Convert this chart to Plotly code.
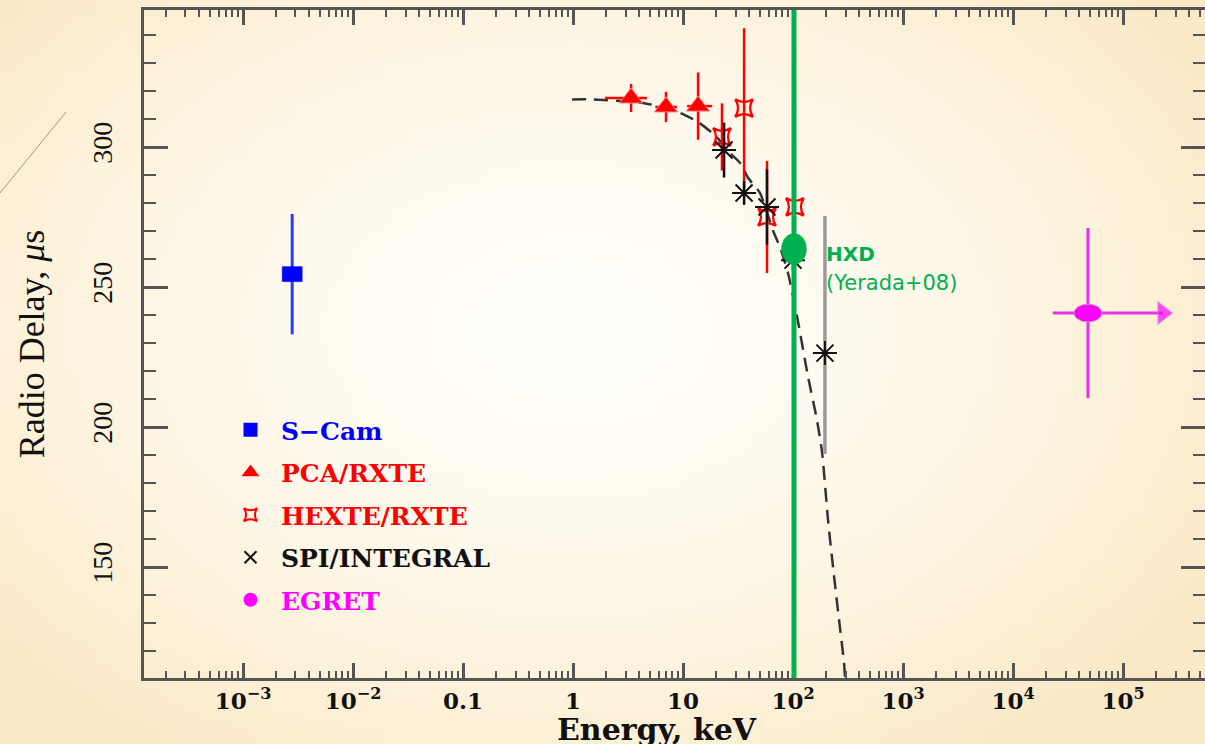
import base64
import struct
import zlib

import numpy as np
import plotly.graph_objects as go

# ---------------- data ----------------
# S-Cam (optical)
scam_energy = [0.0028]
scam_delay = [254.6]
scam_err = [21.5]

# PCA / RXTE
pca_energy = [3.37, 7.0, 13.7]
pca_delay = [317.5, 314.3, 314.6]
pca_err = [5.0, 5.4, 12.0]
pca_energy_lo = [1.95, 5.6, 10.9]
pca_energy_hi = [4.7, 8.8, 18.4]

# HEXTE / RXTE
hexte_energy = [22.6, 35.9, 58.0, 104.0]
hexte_delay = [303.6, 313.9, 275.0, 278.6]
hexte_err = [12.0, 28.5, 20.0, 0.0]

# SPI / INTEGRAL
spi_energy = [23.6, 35.9, 58.0, 100.0, 195.0]
spi_delay = [298.9, 283.6, 278.6, 259.6, 226.4]
spi_err_up = [9.8, 4.0, 13.4, 4.0, 49.0]
spi_err_down = [9.8, 4.0, 13.4, 4.0, 36.0]

# EGRET
egret_energy = [4.8e4]
egret_delay = [240.7]
egret_err = [30.4]
egret_energy_lo = [2.3e4]
egret_arrow_energy = [2.3e5]

# Suzaku HXD (Yerada+08)
hxd_energy = [102.0]
hxd_delay = [263.6]

# model curve
fit_energy = [0.98, 1.5, 4.0, 7.0, 10.4, 13.7, 20.3, 24.0, 33.0, 39.0, 50.0, 66.0,
              76.0, 90.0, 109.0, 137.0, 165.0, 184.0, 208.0, 231.0, 262.0, 291.0, 297.0]
fit_delay = [317.0, 317.0, 315.9, 314.0, 311.4, 308.9, 303.6, 299.6, 294.3, 289.0, 283.6, 270.0,
             264.3, 255.0, 239.3, 217.9, 202.5, 190.7, 166.8, 150.0, 131.1, 115.7, 110.4]

# axis ticks
x_tick_vals = [1e-3, 1e-2, 0.1, 1, 10, 1e2, 1e3, 1e4, 1e5]
x_tick_text = ["10<sup>−3</sup>", "10<sup>−2</sup>", "0.1", "1", "10",
               "10<sup>2</sup>", "10<sup>3</sup>", "10<sup>4</sup>", "10<sup>5</sup>"]
y_tick_vals = [150, 200, 250, 300]

legend_names = ["S−Cam", "PCA/RXTE", "HEXTE/RXTE", "SPI/INTEGRAL", "EGRET"]
legend_colors = ["#0000FF", "#FF0000", "#FF0000", "#111111", "#FF00FF"]
legend_symbols = ["square", "triangle-up", "star-square-open", "x-thin-open", "circle"]

BLUE = "#0000FF"
RED = "#FF0000"
MAGENTA = "#FF00FF"
GREEN = "#00B050"
AXIS = "#555555"

W, H = 1205, 744
ML, MR, MT, MB = 144, 0, 10, 66
pw = W - ML - MR
ph = H - MT - MB
X_RANGE = [-3.9, 5.745]          # log10(keV)
Y_RANGE = [110.36, 348.93]       # microseconds
PX_PER_DECADE = pw / (X_RANGE[1] - X_RANGE[0])
PX_PER_US = ph / (Y_RANGE[1] - Y_RANGE[0])


def blob(energy, delay, rx, ry, kind="ellipse"):
    """Outline of a marker of rx x ry pixels (half sizes) centred on a data point."""
    if kind == "ellipse":
        t = np.linspace(0, 2 * np.pi, 61)
        dx, dy = np.cos(t) * rx, np.sin(t) * ry
    else:
        dx = np.array([-rx, rx, rx, -rx, -rx])
        dy = np.array([-ry, -ry, ry, ry, -ry])
    return energy * 10 ** (dx / PX_PER_DECADE), delay + dy / PX_PER_US


def gradient_png(w, h):
    """Small radial cream gradient, stretched behind the whole figure."""
    inner = np.array([255, 254, 249], float)
    outer = np.array([251, 233, 197], float)
    xs = (np.arange(w) + 0.5) / w * W
    ys = (np.arange(h) + 0.5) / h * H
    gx, gy = np.meshgrid(xs, ys)
    d = np.sqrt(((gx - 570) / 760.0) ** 2 + ((gy - 330) / 520.0) ** 2)
    t = np.clip(d, 0, 1) ** 1.6
    img = inner[None, None, :] + (outer - inner)[None, None, :] * t[..., None]
    img = img.round().astype(np.uint8)
    raw = b"".join(b"\x00" + img[j].tobytes() for j in range(h))

    def chunk(tag, data):
        return (struct.pack(">I", len(data)) + tag + data
                + struct.pack(">I", zlib.crc32(tag + data) & 0xFFFFFFFF))

    png = (b"\x89PNG\r\n\x1a\n"
           + chunk(b"IHDR", struct.pack(">IIBBBBB", w, h, 8, 2, 0, 0, 0))
           + chunk(b"IDAT", zlib.compress(raw, 9))
           + chunk(b"IEND", b""))
    return "data:image/png;base64," + base64.b64encode(png).decode()


fig = go.Figure()

# model curve
fig.add_trace(go.Scatter(
    x=fit_energy, y=fit_delay, mode="lines",
    line=dict(color="#333333", width=2.5, dash="14px,8px", shape="spline", smoothing=0.6),
    showlegend=False, hoverinfo="skip"))

# S-Cam: error bar plus a wide rectangular marker
fig.add_trace(go.Scatter(
    x=scam_energy, y=scam_delay, mode="markers",
    marker=dict(symbol="square", size=1, color=BLUE),
    error_y=dict(type="data", array=scam_err, color="#2B3BFF", thickness=3, width=0),
    showlegend=False))
bx, by = blob(scam_energy[0], scam_delay[0], 10, 7.5, kind="rect")
fig.add_trace(go.Scatter(x=bx, y=by, mode="lines", fill="toself", fillcolor=BLUE,
                         line=dict(color=BLUE, width=0.5), showlegend=False, hoverinfo="skip"))

# PCA / RXTE
fig.add_trace(go.Scatter(
    x=pca_energy, y=pca_delay, mode="markers",
    marker=dict(symbol="triangle-up", size=20, color=RED, line=dict(color="#F08080", width=1)),
    error_y=dict(type="data", array=pca_err, color=RED, thickness=2.5, width=0),
    error_x=dict(type="data",
                 array=[h - e for h, e in zip(pca_energy_hi, pca_energy)],
                 arrayminus=[e - l for l, e in zip(pca_energy_lo, pca_energy)],
                 color=RED, thickness=2.5, width=0),
    showlegend=False))

# HEXTE / RXTE
fig.add_trace(go.Scatter(
    x=hexte_energy, y=hexte_delay, mode="markers",
    marker=dict(symbol="star-square-open", size=16, color=RED, line=dict(width=2.5)),
    error_y=dict(type="data", array=hexte_err, color=RED, thickness=2.5, width=0),
    showlegend=False))

# SPI / INTEGRAL (last point has a grey bar)
fig.add_trace(go.Scatter(
    x=spi_energy[-1:], y=spi_delay[-1:], mode="markers",
    marker=dict(symbol="asterisk-open", size=20, color="#111111", line=dict(width=2)),
    error_y=dict(type="data", symmetric=False, array=spi_err_up[-1:],
                 arrayminus=spi_err_down[-1:], color="#9A9A9A", thickness=3.5, width=0),
    showlegend=False))
fig.add_trace(go.Scatter(
    x=spi_energy[:-1], y=spi_delay[:-1], mode="markers",
    marker=dict(symbol="asterisk-open", size=20, color="#111111", line=dict(width=2)),
    error_y=dict(type="data", symmetric=False, array=spi_err_up[:-1],
                 arrayminus=spi_err_down[:-1], color="#111111", thickness=2.5, width=0),
    showlegend=False))

# EGRET: bars, lower-limit arrow and elliptical point
fig.add_trace(go.Scatter(
    x=[egret_energy[0], egret_arrow_energy[0]], y=[egret_delay[0], egret_delay[0]],
    mode="lines+markers", line=dict(color="#E830E8", width=3),
    marker=dict(symbol=["circle", "triangle-right"], size=[0, 20], color=MAGENTA,
                line=dict(color="#C8A0C8", width=1)),
    showlegend=False, hoverinfo="skip"))
fig.add_trace(go.Scatter(
    x=egret_energy, y=egret_delay, mode="markers",
    marker=dict(symbol="circle", size=1, color=MAGENTA),
    error_y=dict(type="data", array=egret_err, color="#E830E8", thickness=3, width=0),
    error_x=dict(type="data", array=[0.0],
                 arrayminus=[e - l for l, e in zip(egret_energy_lo, egret_energy)],
                 color="#E830E8", thickness=3, width=0),
    showlegend=False))
bx, by = blob(egret_energy[0], egret_delay[0], 14, 9)
fig.add_trace(go.Scatter(x=bx, y=by, mode="lines", fill="toself", fillcolor=MAGENTA,
                         line=dict(color="#B8A0B8", width=1), showlegend=False, hoverinfo="skip"))

# HXD energy line and point
fig.add_shape(type="line", xref="x", yref="paper",
              x0=hxd_energy[0], x1=hxd_energy[0], y0=0, y1=1,
              line=dict(color=GREEN, width=5), layer="above")
bx, by = blob(hxd_energy[0], hxd_delay[0], 12.5, 15.5)
fig.add_trace(go.Scatter(x=bx, y=by, mode="lines", fill="toself", fillcolor=GREEN,
                         line=dict(color=GREEN, width=0.5), showlegend=False, hoverinfo="skip"))

# legend entries
for name, color, symbol in zip(legend_names, legend_colors, legend_symbols):
    fig.add_trace(go.Scatter(
        x=[None], y=[None], mode="markers", legendgroup=name,
        name=f"<span style='color:{color}'>{name}</span>",
        marker=dict(symbol=symbol, size=15, color=color, line=dict(width=2, color=color))))

# slide decoration
fig.add_shape(type="line", xref="paper", yref="paper",
              x0=(0 - ML) / pw, y0=(H - MB - 193) / ph,
              x1=(66 - ML) / pw, y1=(H - MB - 112) / ph,
              line=dict(color="#C08878", width=1))

images = [dict(source=gradient_png(121, 75), xref="paper", yref="paper",
               x=-ML / pw, y=1 + MT / ph, sizex=W / pw, sizey=H / ph,
               xanchor="left", yanchor="top", sizing="stretch", layer="below")]

annotations = [
    dict(x=np.log10(hxd_energy[0]), y=hxd_delay[0], xref="x", yref="y",
         text="<b>HXD</b>", showarrow=False, xanchor="left", xshift=30, yshift=-5,
         font=dict(family="DejaVu Sans", size=20, color=GREEN)),
    dict(x=np.log10(hxd_energy[0]), y=hxd_delay[0], xref="x", yref="y",
         text="(Yerada+08)", showarrow=False, xanchor="left", xshift=30, yshift=-34,
         font=dict(family="DejaVu Sans", size=21, color=GREEN)),
    dict(x=(657 - ML) / pw, y=(H - MB - 710) / ph, xref="paper", yref="paper",
         text="<b>Energy, keV</b>", showarrow=False, xanchor="center", yanchor="top",
         font=dict(family="DejaVu Serif", size=30, color="#111111")),
]

minor_x = [m * 10.0 ** k for k in range(-5, 7) for m in range(2, 10)]

fig.update_layout(
    width=W, height=H, margin=dict(l=ML, r=MR, t=MT, b=MB, autoexpand=False),
    template="none",
    paper_bgcolor="#FDF4E0", plot_bgcolor="rgba(0,0,0,0)",
    images=images, annotations=annotations,
    showlegend=True,
    legend=dict(x=(220 - ML) / pw, y=(H - MB - 407) / ph, xanchor="left", yanchor="top",
                bgcolor="rgba(0,0,0,0)", borderwidth=0, tracegroupgap=7,
                itemwidth=51,
                font=dict(family="DejaVu Serif", size=25, weight="bold"),
                itemsizing="constant"),
    xaxis=dict(type="log", range=X_RANGE, showgrid=False, zeroline=False,
               showline=True, linecolor=AXIS, linewidth=3, mirror="ticks",
               ticks="inside", ticklen=15, tickwidth=2.5, tickcolor=AXIS,
               tickvals=x_tick_vals, ticktext=x_tick_text,
               tickfont=dict(family="DejaVu Serif", size=23, color="#111111", weight="bold"),
               minor=dict(ticks="inside", ticklen=7, tickwidth=2, tickcolor=AXIS,
                          tickvals=minor_x),
               automargin=False),
    yaxis=dict(range=Y_RANGE, showgrid=False, zeroline=False,
               showline=True, linecolor=AXIS, linewidth=3,
               ticks="inside", ticklen=24, tickwidth=2.5, tickcolor=AXIS,
               tickvals=y_tick_vals, tickangle=-90, ticklabelstandoff=18,
               tickfont=dict(family="Liberation Serif", size=28, color="#111111"),
               minor=dict(ticks="inside", ticklen=12, tickwidth=2, tickcolor=AXIS, dtick=10),
               title=dict(text="Radio Delay, <i>μ</i>s", standoff=32,
                          font=dict(family="Liberation Serif", size=36, color="#111111")),
               automargin=False),
    yaxis2=dict(range=Y_RANGE, overlaying="y", side="right", anchor="x",
                showgrid=False, zeroline=False, showline=False, showticklabels=False,
                ticks="inside", ticklen=24, tickwidth=2.5, tickcolor=AXIS,
                tickvals=y_tick_vals,
                minor=dict(ticks="inside", ticklen=12, tickwidth=2, tickcolor=AXIS, dtick=10)),
)

# keep the right-hand tick axis alive
fig.add_trace(go.Scatter(x=[None], y=[None], yaxis="y2", showlegend=False, hoverinfo="skip"))

fig.write_html("out.html")
